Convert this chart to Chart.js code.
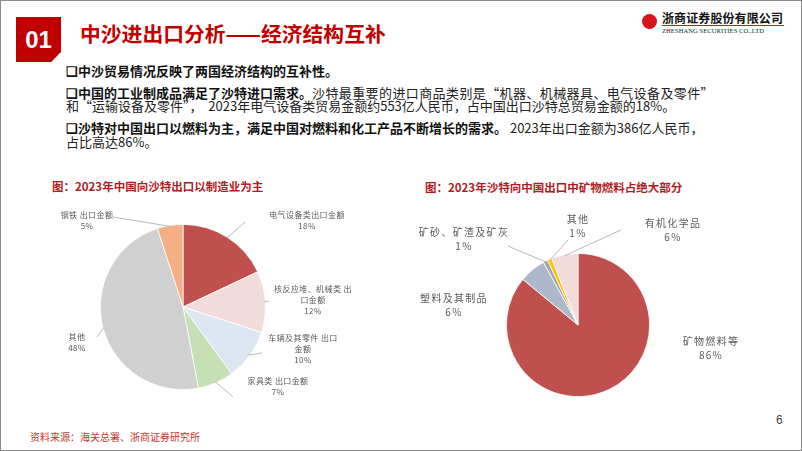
<!DOCTYPE html>
<html>
<head>
<meta charset="utf-8">
<script src="https://cdn.jsdelivr.net/npm/chart.js@4.4.1/dist/chart.umd.min.js"></script>
<style>
  html, body { margin: 0; padding: 0; }
  body { width: 802px; height: 451px; position: relative; overflow: hidden; background: #fff;
         font-family: "Noto Sans CJK SC", "Noto Sans", sans-serif; }
  .frame { position: absolute; left: 0; top: 0; width: 800px; height: 449px; border: 1px solid #8a8a8a; }
  .abs { position: absolute; white-space: pre; }
  .title { left: 80px; top: 19px; font-size: 20.8px; font-weight: bold; color: #C00000; line-height: 28px; }
  .num { left: 16px; top: 17px; width: 45px; height: 45px; background: #C00000;
         clip-path: polygon(0 0, 100% 0, 100% 78%, 78% 100%, 0 100%);
         color: #fff; font: bold 24px "Liberation Sans", Arial, sans-serif; text-align: center; line-height: 45px; }
  .bl { font-size: 13px; color: #222; line-height: 16px; left: 66px; }
  .bl b { font-weight: bold; color: #111; }
  .ctitle { font-size: 11.5px; font-weight: bold; color: #B01B24; line-height: 16px; }
  .src { left: 30px; top: 429px; font-size: 10px; color: #C0392B; line-height: 16px; }
  .pg { left: 776px; top: 413px; font: 12px "Liberation Sans", Arial, sans-serif; color: #404040; }
  .logo-c { left: 642px; top: 14px; width: 15px; height: 15px; border-radius: 50%; background: #D7141A; }
  .logo-t { left: 662px; top: 11px; font-size: 12px; font-weight: bold; color: #111; line-height: 14px; letter-spacing: 0.1px; }
  .logo-l { left: 662px; top: 25px; width: 122px; height: 1px; background: #D7141A; }
  .logo-e { left: 662px; top: 26px; font: 6.5px "Liberation Serif", serif; color: #222; line-height: 10px; letter-spacing: 0.1px; }
  canvas { position: absolute; }
</style>
</head>
<body>
<div class="frame"></div>
<div class="abs num">01</div>
<div class="abs title">中沙进出口分析——经济结构互补</div>
<div class="abs logo-c"></div>
<div class="abs logo-t">浙商证券股份有限公司</div>
<div class="abs logo-l"></div>
<div class="abs logo-e">ZHESHANG SECURITIES CO.,LTD</div>

<div class="abs bl" style="top:63px"><b>❑中沙贸易情况反映了两国经济结构的互补性。</b></div>
<div class="abs bl" style="top:85px"><b>❑中国的工业制成品满足了沙特进口需求。</b><span style="letter-spacing:0.4px">沙特最重要的进口商品类别是“机器、机械器具、电气设备及零件”</span></div>
<div class="abs bl" style="top:98px">和“运输设备及零件”，  2023年电气设备类贸易金额约553亿人民币，占中国出口沙特总贸易金额的18%。</div>
<div class="abs bl" style="top:120px"><b>❑沙特对中国出口以燃料为主，满足中国对燃料和化工产品不断增长的需求。</b> 2023年出口金额为386亿人民币，</div>
<div class="abs bl" style="top:134px">占比高达86%。</div>

<div class="abs ctitle" style="left:52px; top:178px">图：2023年中国向沙特出口以制造业为主</div>
<div class="abs ctitle" style="left:425px; top:179px">图：2023年沙特向中国出口中矿物燃料占绝大部分</div>

<canvas id="leftPie" width="360" height="215" style="left:40px; top:195px"></canvas>
<canvas id="rightPie" width="400" height="215" style="left:400px; top:195px"></canvas>

<div class="abs src">资料来源：海关总署、浙商证券研究所</div>
<div class="abs pg">6</div>

<script>
// 2023 China -> Saudi exports by category (%)
const leftCategories = ["电气设备类出口金额", "核反应堆、机械类 出口金额", "车辆及其零件 出口金额", "家具类 出口金额", "其他", "钢铁 出口金额"];
const leftValues = [18, 12, 10, 7, 48, 5];
const leftColors = ["#C0504D", "#F2DCDB", "#DCE6F2", "#C5E0B4", "#D0D0D0", "#F4B084"];

// 2023 Saudi -> China exports by category (%)
const rightCategories = ["矿物燃料等", "塑料及其制品", "矿砂、矿渣及矿灰", "其他", "有机化学品"];
const rightValues = [86, 6, 1, 1, 6];
const rightColors = ["#C0504D", "#ADB9CA", "#A5A5A5", "#FFC000", "#F2DCDB"];

// label placement relative to pie centre: pos = first text line centre, line = leader end, wrap = chars on line 1
const leftLayout = [
    { pos: [124, -92], line: [62, -85] },
    { pos: [130, -18], line: [86, -6], wrap: 10 },
    { pos: [120, 31], line: [79, 46], wrap: 9 },
    { pos: [95, 74], line: [50, 90] },
    { pos: [-106, 30], line: [-86, 30] },
    { pos: [-96, -92], line: [-70, -90] }
];
const rightLayout = [
    { pos: [133, 16] },
    { pos: [-124, -27] },
    { pos: [-114, -93], line: [-70, -79] },
    { pos: [0, -106], line: [-10, -85] },
    { pos: [95, -102], line: [43, -95] }
];

const sliceLabels = {
    id: "sliceLabels",
    afterDatasetsDraw(chart, args, opts) {
        const ctx = chart.ctx;
        const meta = chart.getDatasetMeta(0);
        const values = chart.data.datasets[0].data;
        ctx.save();
        meta.data.forEach((arc, i) => {
            const lay = opts.layout[i];
            const p = arc.getProps(["x", "y", "startAngle", "endAngle", "outerRadius"], true);
            const mid = (p.startAngle + p.endAngle) / 2;
            if (lay.line) {
                ctx.beginPath();
                ctx.strokeStyle = "#A6A6A6";
                ctx.lineWidth = 0.8;
                ctx.moveTo(p.x + Math.cos(mid) * (p.outerRadius - 1), p.y + Math.sin(mid) * (p.outerRadius - 1));
                ctx.lineTo(p.x + lay.line[0], p.y + lay.line[1]);
                ctx.stroke();
            }
            const name = chart.data.labels[i];
            const lines = lay.wrap ? [name.slice(0, lay.wrap), name.slice(lay.wrap)] : [name];
            lines.push(values[i] + "%");
            ctx.fillStyle = "#595959";
            ctx.font = opts.font;
            ctx.letterSpacing = opts.spacing;
            ctx.textAlign = "center";
            ctx.textBaseline = "middle";
            lines.forEach((t, k) => {
                ctx.fillText(t, p.x + lay.pos[0], p.y + lay.pos[1] + k * opts.lineHeight);
            });
        });
        ctx.restore();
    }
};

function makePie(id, labels, values, colors, padding, layout, font, spacing, lineHeight) {
    new Chart(document.getElementById(id), {
        type: "pie",
        data: {
            labels: labels,
            datasets: [{
                data: values,
                backgroundColor: colors,
                borderColor: "#ffffff",
                borderWidth: 0.8
            }]
        },
        options: {
            responsive: false,
            animation: false,
            layout: { padding: padding },
            plugins: {
                legend: { display: false },
                tooltip: { enabled: false },
                sliceLabels: { layout: layout, font: font, spacing: spacing, lineHeight: lineHeight }
            }
        },
        plugins: [sliceLabels]
    });
}

makePie("leftPie", leftCategories, leftValues, leftColors,
    { left: 60, top: 29, right: 134, bottom: 20 }, leftLayout,
    '8px "Noto Sans CJK SC"', "0.4px", 11);
makePie("rightPie", rightCategories, rightValues, rightColors,
    { left: 106, top: 58, right: 150, bottom: 13 }, rightLayout,
    '10px "Noto Sans CJK SC"', "1.3px", 14.5);
</script>
</body>
</html>
